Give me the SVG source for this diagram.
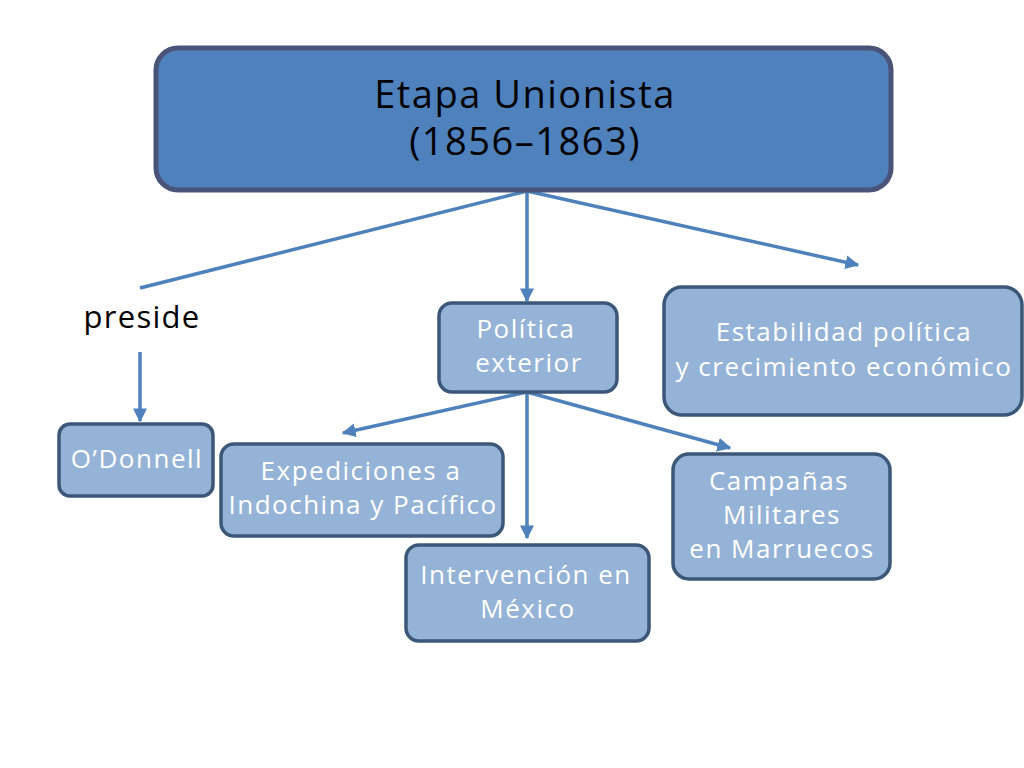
<svg xmlns="http://www.w3.org/2000/svg" width="1024" height="768" viewBox="0 0 1024 768">
<style>
.light{fill:#95b3d7;stroke:#3c5878;stroke-width:3.5}
.top{fill:#4f81bd;stroke:#4a5478;stroke-width:5}
.t{font-family:"Open Sans","Liberation Sans",sans-serif;text-anchor:middle;fill:#ffffff;font-size:26px;letter-spacing:1.5px}
.tb{font-family:"Open Sans","Liberation Sans",sans-serif;text-anchor:middle;fill:#000000}
.c{stroke:#4f81bd;stroke-width:3.5;fill:none}
</style>
<defs>
<marker id="ah" viewBox="0 0 10 10" refX="9" refY="5" markerWidth="4" markerHeight="4" orient="auto" markerUnits="strokeWidth">
<path d="M0,0 L10,5 L0,10 z" fill="#4f81bd"/>
</marker>
</defs>
<rect width="1024" height="768" fill="#ffffff"/>
<g id="connectors">
<line class="c" x1="527" y1="191" x2="140" y2="288"/>
<line class="c" x1="527" y1="191" x2="527" y2="301" marker-end="url(#ah)"/>
<line class="c" x1="527" y1="191" x2="858" y2="265" marker-end="url(#ah)"/>
<line class="c" x1="140" y1="352" x2="140" y2="421" marker-end="url(#ah)"/>
<line class="c" x1="527" y1="392" x2="343" y2="433" marker-end="url(#ah)"/>
<line class="c" x1="527" y1="392" x2="527" y2="538" marker-end="url(#ah)"/>
<line class="c" x1="527" y1="392" x2="730" y2="448" marker-end="url(#ah)"/>
</g>
<g id="etapa">
<rect class="top" x="156" y="48" width="735" height="142" rx="22"/>
<text class="tb" x="525" y="108" font-size="38" letter-spacing="1.5">Etapa Unionista</text>
<text class="tb" x="525" y="155" font-size="38" letter-spacing="1.5">(1856–1863)</text>
</g>
<g id="preside">
<text class="tb" x="142" y="328" font-size="31" letter-spacing="1.3">preside</text>
</g>
<g id="odonnell">
<rect class="light" x="59" y="424" width="154" height="72" rx="11"/>
<text class="t" x="137" y="468">O’Donnell</text>
</g>
<g id="politica">
<rect class="light" x="439" y="303" width="178" height="89" rx="13"/>
<text class="t" x="526" y="338">Política</text>
<text class="t" x="529" y="372">exterior</text>
</g>
<g id="estabilidad">
<rect class="light" x="664" y="287" width="358" height="128" rx="18"/>
<text class="t" x="844" y="341">Estabilidad política</text>
<text class="t" x="844" y="376">y crecimiento económico</text>
</g>
<g id="expediciones">
<rect class="light" x="221" y="444" width="282" height="92" rx="13"/>
<text class="t" x="361" y="480">Expediciones a</text>
<text class="t" x="363" y="514">Indochina y Pacífico</text>
</g>
<g id="intervencion">
<rect class="light" x="406" y="545" width="243" height="96" rx="13"/>
<text class="t" x="526" y="584">Intervención en</text>
<text class="t" x="528" y="618">México</text>
</g>
<g id="campanas">
<rect class="light" x="673" y="454" width="217" height="125" rx="16"/>
<text class="t" x="779" y="490">Campañas</text>
<text class="t" x="782" y="524">Militares</text>
<text class="t" x="782" y="558">en Marruecos</text>
</g>
</svg>
